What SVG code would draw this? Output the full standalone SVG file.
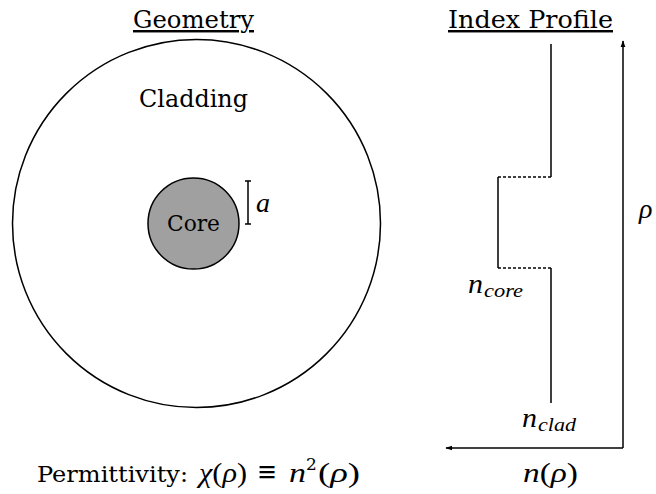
<svg xmlns="http://www.w3.org/2000/svg" width="656" height="494" viewBox="0 0 656 494">
<style>
text{font-family:"DejaVu Serif","Liberation Serif",serif;fill:#000}
.h{font-size:24.5px;text-decoration:underline}
.m{font-family:"Liberation Serif","Times New Roman",serif;font-style:italic}
.ln{stroke:#000;stroke-width:1.5;fill:none}
.ds{stroke:#000;stroke-width:1.3;fill:none;stroke-dasharray:3 2}
</style>
<defs>
<marker id="ar" viewBox="0 0 10 10" refX="9" refY="5" markerWidth="7" markerHeight="7" orient="auto" markerUnits="userSpaceOnUse">
<path d="M0,1.5 L10,5 L0,8.5 Z" fill="#000"/>
</marker>
</defs>
<g id="titles">
<text class="h" x="133" y="28" textLength="121" lengthAdjust="spacingAndGlyphs">Geometry</text>
<text class="h" x="448" y="28" textLength="165" lengthAdjust="spacingAndGlyphs">Index Profile</text>
</g>
<g id="cladding">
<circle cx="196.5" cy="223.5" r="184" fill="#fff" stroke="#000" stroke-width="1.5"/>
<text x="139" y="107" font-size="23.5" textLength="109" lengthAdjust="spacingAndGlyphs">Cladding</text>
</g>
<g id="core">
<circle cx="193.5" cy="223.5" r="45.5" fill="#a0a0a0" stroke="#000" stroke-width="1.5"/>
<text x="167" y="231" font-size="22" textLength="53" lengthAdjust="spacingAndGlyphs">Core</text>
</g>
<g id="radius">
<path class="ln" d="M248,181 V224 M245,181 H251 M245,224 H251"/>
<text class="m" x="256" y="212" font-size="28">a</text>
</g>
<g id="profile">
<path class="ln" d="M551,44 V177 M498,177 V268 M551,268 V403"/>
<path class="ds" d="M551,177 H498 M498,268 H551"/>
<text class="m" x="468" y="293" font-size="28" textLength="15" lengthAdjust="spacingAndGlyphs">n</text>
<text class="m" x="484" y="297" font-size="18" textLength="39" lengthAdjust="spacingAndGlyphs">core</text>
<text class="m" x="522" y="427" font-size="28" textLength="15" lengthAdjust="spacingAndGlyphs">n</text>
<text class="m" x="538" y="431" font-size="18" textLength="38" lengthAdjust="spacingAndGlyphs">clad</text>
</g>
<g id="connectors">
<path class="ln" d="M623,448 V41" marker-end="url(#ar)"/>
<path class="ln" d="M623,448 H446" marker-end="url(#ar)"/>
</g>
<g id="axis-labels">
<text class="m" x="639" y="218" font-size="28">ρ</text>
<text x="523" y="482" font-size="27" textLength="55" lengthAdjust="spacingAndGlyphs"><tspan class="m">n</tspan><tspan font-family="Liberation Serif">(</tspan><tspan class="m">ρ</tspan><tspan font-family="Liberation Serif">)</tspan></text>
</g>
<g id="formula">
<text x="37" y="482" font-size="22" textLength="151" lengthAdjust="spacingAndGlyphs">Permittivity:</text>
<text x="199" y="482" font-size="27" textLength="48" lengthAdjust="spacingAndGlyphs"><tspan class="m">χ</tspan><tspan font-family="Liberation Serif">(</tspan><tspan class="m">ρ</tspan><tspan font-family="Liberation Serif">)</tspan></text>
<text x="257" y="481" font-size="28" textLength="20" lengthAdjust="spacingAndGlyphs">≡</text>
<text class="m" x="289" y="482" font-size="28" textLength="17" lengthAdjust="spacingAndGlyphs">n</text>
<text x="306" y="470" font-size="17" font-family="Liberation Serif">2</text>
<text x="318" y="482" font-size="27" textLength="42" lengthAdjust="spacingAndGlyphs"><tspan font-family="Liberation Serif">(</tspan><tspan class="m">ρ</tspan><tspan font-family="Liberation Serif">)</tspan></text>
</g>
</svg>
